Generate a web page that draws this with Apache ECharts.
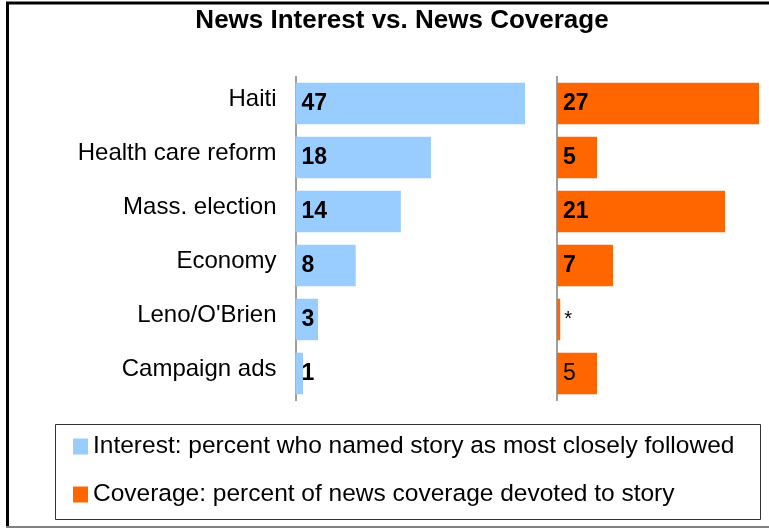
<!DOCTYPE html>
<html>
<head>
<meta charset="utf-8">
<script src="https://cdn.jsdelivr.net/npm/echarts@6/dist/echarts.min.js"></script>
<style>
html,body{margin:0;padding:0;background:#fff;}
#chart{width:769px;height:529px;}
</style>
</head>
<body>
<div id="chart"></div>
<script>
var categories = ['Haiti', 'Health care reform', 'Mass. election', 'Economy', "Leno/O'Brien", 'Campaign ads'];
var interestValues = [47, 18, 14, 8, 3, 1];
var interestLabels = ['47', '18', '14', '8', '3', '1'];
var coverageValues = [27, 5, 21, 7, 0.4, 5];
var coverageLabels = ['27', '5', '21', '7', '*', '5'];
var seriesNames = ['Interest: percent who named story as most closely followed',
                   'Coverage: percent of news coverage devoted to story'];
var titleText = 'News Interest vs. News Coverage';

var FONT = '"Liberation Sans", Arial, sans-serif';

var chart = echarts.init(document.getElementById('chart'), null, {renderer: 'canvas'});

var coverageData = coverageValues.map(function (v, i) {
  var item = {value: v};
  if (coverageLabels[i] === '*') {
    item.label = {position: 'right', distance: 4, fontWeight: 'normal', fontSize: 20, offset: [0, 0]};
  } else if (i === coverageValues.length - 1) {
    item.label = {fontWeight: 'normal'};
  }
  return item;
});

var valueLabel = function (labels) {
  return {
    show: true,
    position: 'insideLeft',
    distance: 6,
    color: '#000',
    fontFamily: FONT,
    fontSize: 23,
    fontWeight: 'bold',
    formatter: function (p) { return labels[p.dataIndex]; }
  };
};

var option = {
  backgroundColor: '#fff',
  animation: false,
  graphic: [
    {type: 'line', shape: {x1: 6, y1: 3, x2: 769, y2: 3}, style: {stroke: '#000', lineWidth: 3}},
    {type: 'line', shape: {x1: 7.5, y1: 2, x2: 7.5, y2: 528}, style: {stroke: '#000', lineWidth: 3}},
    {type: 'line', shape: {x1: 6, y1: 527, x2: 769, y2: 527}, style: {stroke: '#808080', lineWidth: 2}},
    {type: 'rect', shape: {x: 55.5, y: 424.5, width: 705, height: 95}, style: {fill: 'none', stroke: '#333', lineWidth: 1}, z: 0},
    {type: 'text', x: 402, y: 8, style: {text: titleText, fill: '#000', font: 'bold 26px ' + FONT, textAlign: 'center', textVerticalAlign: 'top'}}
  ],
  legend: {
    orient: 'vertical',
    left: 73,
    top: 434,
    padding: 0,
    itemGap: 23,
    itemWidth: 15,
    itemHeight: 16,
    icon: 'rect',
    selectedMode: false,
    data: seriesNames,
    textStyle: {fontFamily: FONT, fontSize: 24.5, color: '#000', lineHeight: 24}
  },
  grid: [
    {left: 295.5, top: 76.5, width: 229.5, height: 324},
    {left: 557, top: 76.5, width: 202, height: 324}
  ],
  xAxis: [
    {type: 'value', gridIndex: 0, min: 0, max: 30.5, show: false},
    {type: 'value', gridIndex: 1, min: 0, max: 25.25, show: false}
  ],
  yAxis: [
    {
      type: 'category', gridIndex: 0, data: categories, inverse: true,
      axisLine: {show: true, lineStyle: {color: '#7f7f7f', width: 1.5}},
      axisTick: {show: false},
      axisLabel: {margin: 19, color: '#000', fontFamily: FONT, fontSize: 24, verticalAlign: 'bottom', lineHeight: 9}
    },
    {
      type: 'category', gridIndex: 1, data: categories, inverse: true,
      axisLine: {show: true, lineStyle: {color: '#7f7f7f', width: 1.5}},
      axisTick: {show: false},
      axisLabel: {show: false}
    }
  ],
  series: [
    {
      name: seriesNames[0], type: 'bar', xAxisIndex: 0, yAxisIndex: 0,
      data: interestValues, barWidth: '77%', clip: true,
      itemStyle: {color: '#99CCFF'},
      label: valueLabel(interestLabels)
    },
    {
      name: seriesNames[1], type: 'bar', xAxisIndex: 1, yAxisIndex: 1,
      data: coverageData, barWidth: '77%', clip: true,
      itemStyle: {color: '#FF6600'},
      label: valueLabel(coverageLabels)
    }
  ]
};
chart.setOption(option);
</script>
</body>
</html>
